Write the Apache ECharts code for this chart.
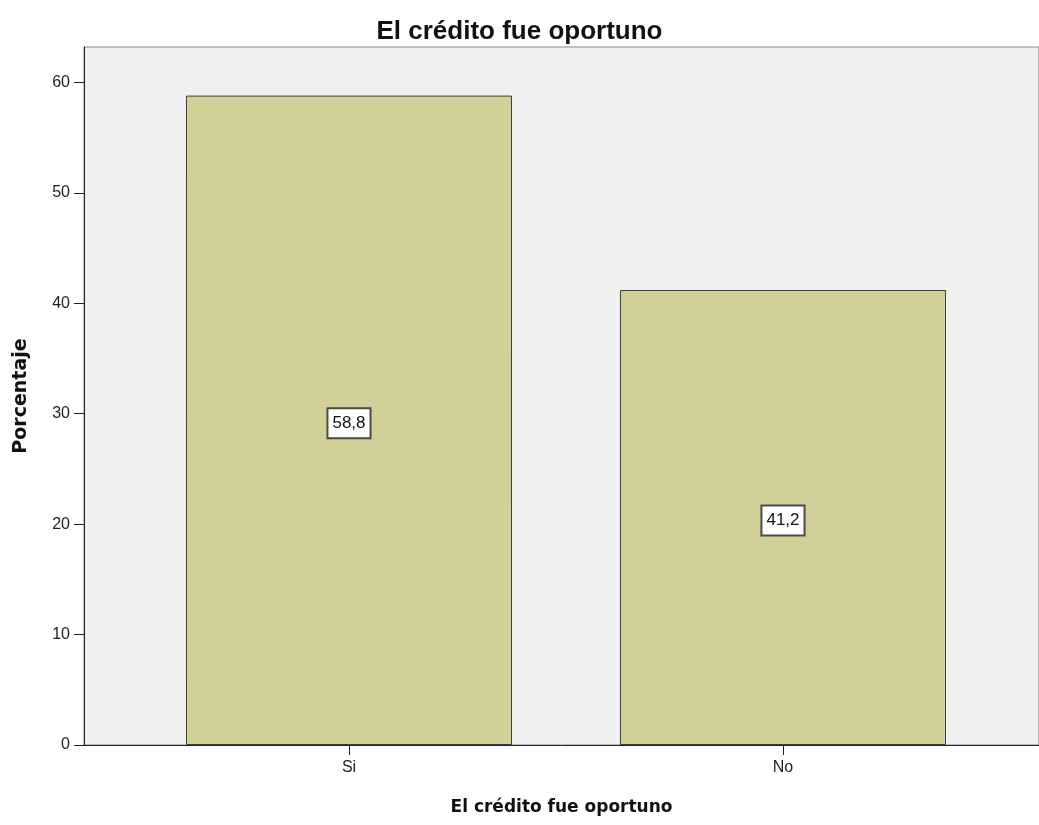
<!DOCTYPE html>
<html>
<head>
<meta charset="utf-8">
<script src="https://cdn.jsdelivr.net/npm/echarts@6/dist/echarts.min.js"></script>
<style>
  html, body { margin: 0; padding: 0; background: #fff; }
  #chart { width: 1039px; height: 825px; }
</style>
</head>
<body>
<div id="chart"></div>
<script>
// datos del gráfico
const categories = ['Si', 'No']
const values = [58.8, 41.2]
const yTicks = [0, 10, 20, 30, 40, 50, 60]
const xPositions = [1, 2]

const chart = echarts.init(document.getElementById('chart'))

// 58.8 -> "58,8"
const fmt = v => String(v).replace('.', ',')

const option = {
  animation: false,
  textStyle: { fontFamily: 'Liberation Sans, Arial, sans-serif' },
  title: {
    text: 'El crédito fue oportuno',
    left: 'center',
    top: 14,
    textStyle: { fontSize: 26, fontWeight: 'bold', color: '#111' }
  },
  grid: {
    left: 84,
    right: 0,
    top: 47,
    bottom: 80,
    show: true,
    backgroundColor: '#f0f0f0',
    borderColor: '#888',
    borderWidth: 1
  },
  xAxis: {
    type: 'value',
    min: 0.3894,
    max: 2.5899,
    name: 'El crédito fue oportuno',
    nameLocation: 'middle',
    nameGap: 54,
    nameTextStyle: { fontSize: 17, fontWeight: 'bold', color: '#111', fontFamily: 'DejaVu Sans' },
    splitLine: { show: false },
    axisLine: { show: true, lineStyle: { color: '#222', width: 1 } },
    axisTick: { show: true, length: 10, customValues: xPositions, lineStyle: { color: '#222' } },
    axisLabel: {
      customValues: xPositions,
      fontSize: 16,
      color: '#222',
      margin: 15,
      formatter: v => categories[Math.round(v) - 1] || ''
    }
  },
  yAxis: {
    type: 'value',
    min: 0,
    max: 63.2,
    name: 'Porcentaje',
    nameLocation: 'middle',
    nameGap: 53,
    nameTextStyle: { fontSize: 19, fontWeight: 'bold', color: '#111', fontFamily: 'DejaVu Sans' },
    splitLine: { show: false },
    axisLine: { show: true, lineStyle: { color: '#222', width: 1 } },
    axisTick: { show: true, length: 10, customValues: yTicks, lineStyle: { color: '#222' } },
    axisLabel: { customValues: yTicks, fontSize: 16, color: '#222', margin: 14 }
  },
  series: [
    {
      type: 'bar',
      barWidth: 326,
      data: categories.map((c, i) => [xPositions[i], values[i]]),
      itemStyle: {
        color: '#d3cf98',
        borderColor: '#3c3c3c',
        borderWidth: 1
      },
      label: {
        show: true,
        position: 'inside',
        offset: [0, 3],
        formatter: p => fmt(p.value[1]),
        fontSize: 17,
        color: '#111',
        backgroundColor: '#fff',
        borderColor: '#4a4a4a',
        borderWidth: 2,
        padding: [6, 4, 5, 4]
      }
    }
  ]
}
chart.setOption(option)
</script>
</body>
</html>
